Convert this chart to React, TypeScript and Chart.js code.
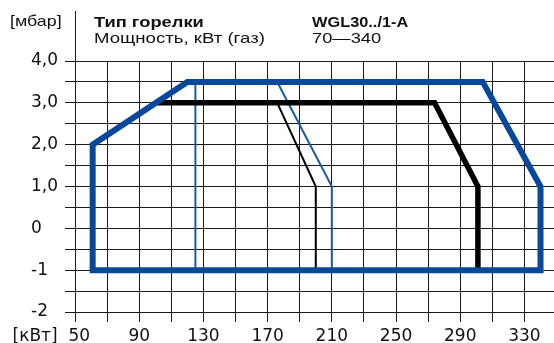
import React, { useEffect, useRef } from 'react';
import { Chart, registerables } from 'chart.js';
Chart.register(...registerables);

// ---- data ----
const xTicks = [50, 70, 90, 110, 130, 150, 170, 190, 210, 230, 250, 270, 290, 310, 330];
const xTickLabels = ['\u200250', '', '90', '', '130', '', '170', '', '210', '', '250', '', '290', '', '330'];
const yTicks = [-2, -1.5, -1, -0.5, 0, 0.5, 1, 1.5, 2, 2.5, 3, 3.5, 4];
const yTickLabels = ['-2', '', '-1', '', '0', '', '1,0', '', '2,0', '', '3,0', '', '4,0'];

const outerX = [61, 61, 120, 304, 340, 340, 61];
const outerY = [-1, 2, 3.5, 3.5, 1, -1, -1];
const blackThickX = [101, 274, 301, 301];
const blackThickY = [3, 3, 1, -1];
const thinBlueLeftX = [125, 125];
const thinBlueLeftY = [3.5, -1];
const thinBlueRightX = [176, 210, 210];
const thinBlueRightY = [3.5, 1, -1];
const thinBlackX = [176, 200, 200];
const thinBlackY = [3, 1, -1];

const yUnit = '[мбар]';
const xUnit = '[кВт]';
const headLabel1 = 'Тип горелки';
const headLabel2 = 'Мощность, кВт (газ)';
const headValue1 = 'WGL30../1-A';
const headValue2 = '70\u2014340';

const BLUE = '#07489a';
const THIN_BLUE = '#1c58a4';

const pts = (xs: number[], ys: number[]) => xs.map((x, i) => ({ x, y: ys[i] }));

const axisLinePlugin = {
  id: 'axisLineTop',
  afterDraw(chart: any) {
    const ctx = chart.ctx;
    const x = chart.scales.x.getPixelForValue(50);
    ctx.save();
    ctx.strokeStyle = '#1a1a1a';
    ctx.lineWidth = 1;
    ctx.beginPath();
    ctx.moveTo(Math.round(x) + 0.5, 11);
    ctx.lineTo(Math.round(x) + 0.5, chart.chartArea.top);
    ctx.stroke();
    ctx.restore();
  },
};

export default function App() {
  const ref = useRef<HTMLCanvasElement>(null);
  useEffect(() => {
    if (!ref.current) return;
    const tickFont = { family: 'DejaVu Sans', size: 17 };
    const chart = new Chart(ref.current, {
      type: 'scatter',
      data: {
        datasets: [
          { data: pts(outerX, outerY), borderColor: BLUE, borderWidth: 6, borderCapStyle: 'square', order: 0 },
          { data: pts(blackThickX, blackThickY), borderColor: '#000', borderWidth: 5.5, order: 1 },
          { data: pts(thinBlueLeftX, thinBlueLeftY), borderColor: THIN_BLUE, borderWidth: 2, order: 2 },
          { data: pts(thinBlueRightX, thinBlueRightY), borderColor: THIN_BLUE, borderWidth: 2, order: 2 },
          { data: pts(thinBlackX, thinBlackY), borderColor: '#000', borderWidth: 2, order: 3 },
        ].map((d) => ({
          ...d,
          showLine: true,
          pointRadius: 0,
          pointHoverRadius: 0,
          fill: false,
          tension: 0,
          borderJoinStyle: 'miter',
          backgroundColor: d.borderColor,
        })) as any,
      },
      options: {
        responsive: false,
        animation: false,
        events: [],
        layout: { padding: { top: 61, left: 31, right: 0, bottom: 0 } },
        plugins: { legend: { display: false }, tooltip: { enabled: false } },
        scales: {
          x: {
            type: 'linear',
            position: 'bottom',
            min: 50,
            max: 348.4,
            afterBuildTicks: (s: any) => {
              s.ticks = xTicks.map((v) => ({ value: v }));
            },
            afterFit: (s: any) => {
              s.height = 31;
            },
            ticks: {
              autoSkip: false,
              maxRotation: 0,
              padding: 4,
              color: '#111',
              font: tickFont,
              callback: (v: any) => xTickLabels[xTicks.indexOf(Number(v))] ?? '',
            },
            grid: { color: '#1a1a1a', lineWidth: 1, tickLength: 10, drawTicks: true },
            border: { display: false },
          },
          y: {
            type: 'linear',
            min: -2,
            max: 4,
            afterBuildTicks: (s: any) => {
              s.ticks = yTicks.map((v) => ({ value: v }));
            },
            afterFit: (s: any) => {
              s.width = 44;
            },
            ticks: {
              autoSkip: false,
              crossAlign: 'far',
              padding: 3,
              color: '#111',
              font: tickFont,
              callback: (v: any) => yTickLabels[yTicks.indexOf(Number(v))] ?? '',
            },
            grid: { color: '#1a1a1a', lineWidth: 1, tickLength: 10, drawTicks: true },
            border: { display: false },
          },
        },
      } as any,
      plugins: [axisLinePlugin],
    });
    return () => chart.destroy();
  }, []);

  const headFont: React.CSSProperties = {
    position: 'absolute',
    fontFamily: '"Liberation Sans", Arial, sans-serif',
    fontSize: 15,
    lineHeight: '15px',
    color: '#111',
    whiteSpace: 'nowrap',
    transformOrigin: 'left top',
    transform: 'scaleX(1.22)',
  };

  return (
    <div style={{ position: 'fixed', left: 0, top: 0, width: 554, height: 343, background: '#fff', overflow: 'hidden' }}>
      <canvas ref={ref} width={554} height={343} style={{ position: 'absolute', left: 0, top: 0 }} />
      <div style={{ ...headFont, left: 10, top: 13, transform: 'scaleX(1.19)' }}>{yUnit}</div>
      <div style={{ ...headFont, left: 94, top: 14, fontWeight: 'bold' }}>{headLabel1}</div>
      <div style={{ ...headFont, left: 94, top: 29.6, transform: 'scaleX(1.24)' }}>{headLabel2}</div>
      <div style={{ ...headFont, left: 312, top: 14, fontWeight: 'bold', transform: 'scaleX(1.09)' }}>{headValue1}</div>
      <div style={{ ...headFont, left: 312, top: 29.6 }}>{headValue2}</div>
      <div
        style={{
          position: 'absolute',
          left: 12.5,
          top: 327,
          fontFamily: '"DejaVu Sans", sans-serif',
          fontSize: 17,
          lineHeight: '17px',
          color: '#111',
          whiteSpace: 'nowrap',
        }}
      >
        {xUnit}
      </div>
    </div>
  );
}
